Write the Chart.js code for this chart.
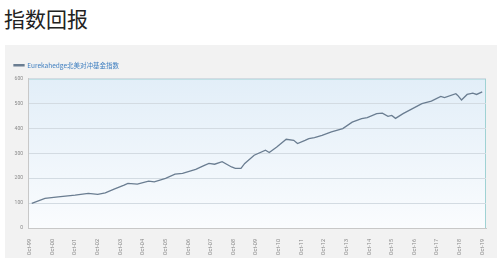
<!DOCTYPE html>
<html>
<head>
<meta charset="utf-8">
<script src="https://cdn.jsdelivr.net/npm/chart.js@4"></script>
<style>
  body { margin: 0; background: #fff; width: 500px; height: 261px; overflow: hidden; position: relative; }
  h1 { position: absolute; left: 4px; top: 3px; margin: 0; font: 400 21px "Noto Sans CJK SC", sans-serif; color: #222; }
  #panel { position: absolute; left: 5px; top: 45px; width: 492px; height: 213px; background: #f2f2f2; }
</style>
</head>
<body>
<h1>指数回报</h1>
<div id="panel"><canvas id="myChart"></canvas></div>
<script>
'use strict';
// 月份: 0 = Oct-99
const months = [1, 8, 15, 24, 31, 36, 40, 45, 50, 52, 57, 63, 66, 72, 77, 81, 88, 92, 95, 98,
  102, 107, 109, 112, 114, 119, 125, 127, 131, 136, 140, 142, 146, 148, 151, 155, 160, 166,
  171, 176, 179, 184, 187, 190, 192, 194, 198, 203, 208, 213, 218, 220, 226, 227, 229, 232,
  235, 237, 240];
const values = [99, 119, 125, 132, 139, 135, 141, 157, 172, 179, 176, 188, 185, 199, 216, 219,
  235, 249, 259, 256, 266, 245, 239, 239, 259, 292, 312, 303, 325, 356, 352, 339, 352, 359,
  363, 372, 386, 399, 425, 439, 443, 459, 461, 448, 452, 440, 459, 479, 499, 509, 528, 523,
  539, 532, 514, 536, 541, 536, 546];
const tickLabels = ['Oct-99', 'Oct-00', 'Oct-01', 'Oct-02', 'Oct-03', 'Oct-04', 'Oct-05',
  'Oct-06', 'Oct-07', 'Oct-08', 'Oct-09', 'Oct-10', 'Oct-11', 'Oct-12', 'Oct-13', 'Oct-14',
  'Oct-15', 'Oct-16', 'Oct-17', 'Oct-18', 'Oct-19'];
const yTicks = [0, 100, 200, 300, 400, 500, 600];

// 描画エリアの背景
const areaBg = {
  id: 'areaBg',
  beforeDraw(chart) {
    const { ctx, chartArea: a } = chart;
    const g = ctx.createLinearGradient(0, a.top, 0, a.bottom);
    g.addColorStop(0, '#e2eef8');
    g.addColorStop(1, '#fafcfe');
    ctx.save();
    ctx.fillStyle = g;
    ctx.fillRect(a.left, a.top, a.right - a.left, a.bottom - a.top);
    ctx.strokeStyle = '#9fd2d4';
    ctx.lineWidth = 1;
    ctx.beginPath();
    ctx.moveTo(a.left, a.top + 0.5);
    ctx.lineTo(a.right - 0.5, a.top + 0.5);
    ctx.lineTo(a.right - 0.5, a.bottom);
    ctx.stroke();
    ctx.restore();
  }
};

const data = {
  datasets: [{
    label: 'Eurekahedge北美对冲基金指数',
    data: months.map((m, i) => ({ x: m, y: values[i] })),
    borderColor: '#6a7d91',
    backgroundColor: '#6a7d91',
    borderWidth: 1.3,
    pointRadius: 0,
    tension: 0
  }]
};

const options = {
  responsive: false,
  animation: false,
  layout: { padding: { top: 8, right: 11, left: 0, bottom: 0 } },
  plugins: {
    legend: {
      align: 'start',
      labels: {
        boxWidth: 10,
        boxHeight: 1,
        padding: 9,
        color: '#3f7fc0',
        font: { size: 6.5, family: '"Noto Sans CJK SC", sans-serif' }
      }
    },
    tooltip: { enabled: false }
  },
  scales: {
    x: {
      type: 'linear',
      min: -1,
      max: 242,
      afterBuildTicks: (axis) => {
        axis.ticks = tickLabels.map((t, i) => ({ value: i * 12 }));
      },
      afterFit: (axis) => { axis.height = 30; },
      grid: { display: false },
      border: { color: '#c8c8c8' },
      ticks: {
        minRotation: 90,
        maxRotation: 90,
        color: '#888',
        font: { size: 5.5, family: 'Roboto, sans-serif' },
        callback: (val) => tickLabels[Math.round(val / 12)]
      }
    },
    y: {
      min: 0,
      max: 600,
      afterBuildTicks: (axis) => {
        axis.ticks = yTicks.map(v => ({ value: v }));
      },
      afterFit: (axis) => { axis.width = 23; },
      grid: { color: '#d3dbe2', drawTicks: false },
      border: { color: '#c8c8c8' },
      ticks: {
        padding: 5,
        color: '#888',
        font: { size: 5, family: 'Roboto, sans-serif' }
      }
    }
  }
};

const canvas = document.getElementById('myChart');
canvas.width = 492;
canvas.height = 213;
canvas.style.width = '492px';
canvas.style.height = '213px';

const chart = new Chart(canvas, {
  type: 'line',
  data: data,
  options: options,
  plugins: [areaBg]
});
</script>
</body>
</html>
